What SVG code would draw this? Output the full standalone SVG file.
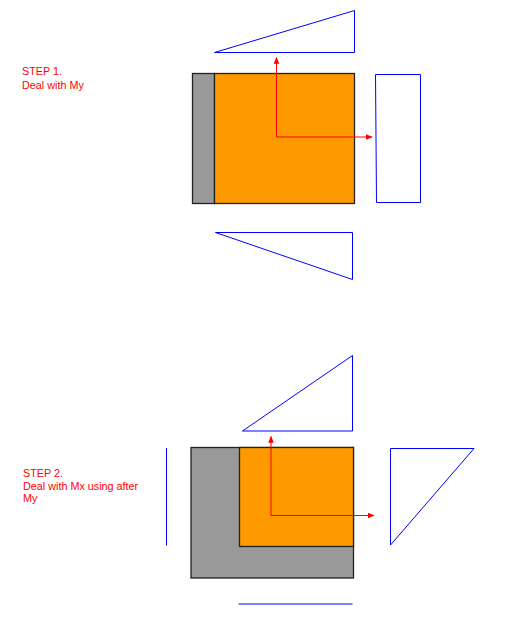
<svg xmlns="http://www.w3.org/2000/svg" width="519" height="638" viewBox="0 0 519 638">
<style>
.blue{fill:none;stroke:#0000ff;stroke-width:1}
.box{stroke:#222;stroke-width:1.3}
.red{fill:none;stroke:#ff0000;stroke-width:1}
.lbl{font-family:"Liberation Sans",Arial,sans-serif;font-size:10.8px;fill:#ff0000}
</style>
<defs>
<marker id="ah" viewBox="0 0 10 10" refX="9" refY="5" markerWidth="7" markerHeight="7" markerUnits="userSpaceOnUse" orient="auto">
<path d="M0,1 L10,5 L0,9 Z" fill="#ff0000"/>
</marker>
</defs>
<rect width="519" height="638" fill="#ffffff"/>
<g id="step1">
<g id="label1"><text class="lbl" x="22" y="75">STEP 1.</text><text class="lbl" x="22" y="89">Deal with My</text></g>
<g id="top-tri1"><polygon class="blue" points="214.5,52.5 354.5,10.5 354.5,52.5"/></g>
<g id="section1">
<rect x="192.5" y="73.5" width="22" height="130" fill="#999999" class="box"/>
<rect x="214.5" y="73.5" width="140" height="130" fill="#ff9900" class="box"/>
</g>
<g id="right-rect1"><polygon class="blue" points="375.5,74.5 420.5,74.5 420.5,202.5 376.5,202.5"/></g>
<g id="bottom-tri1"><polygon class="blue" points="215.5,232.5 352.5,232.5 352.5,279.5"/></g>
</g>
<g id="step2">
<g id="label2"><text class="lbl" x="23" y="476.5">STEP 2.</text><text class="lbl" x="23" y="489.5">Deal with Mx using after</text><text class="lbl" x="23" y="502">My</text></g>
<g id="top-tri2"><polygon class="blue" points="242.5,431 352.5,355.5 352.5,431"/></g>
<g id="section2">
<rect x="191" y="447.5" width="162.5" height="130.5" fill="#999999" class="box"/>
<rect x="239.5" y="447.5" width="114" height="99" fill="#ff9900" class="box"/>
</g>
<g id="left-line2"><line class="blue" x1="166.5" y1="448" x2="166.5" y2="545.5"/></g>
<g id="right-tri2"><polygon class="blue" points="390.5,448.5 474,448.5 390.5,545"/></g>
<g id="bottom-line2"><line class="blue" x1="238.5" y1="604" x2="352.5" y2="604"/></g>
</g>
<g id="connectors">
<polyline class="red" points="276.5,137 276.5,57.5" marker-end="url(#ah)"/>
<polyline class="red" points="276.5,137 372,137" marker-end="url(#ah)"/>
<polyline class="red" points="271,515.5 271,436.5" marker-end="url(#ah)"/>
<polyline class="red" points="271,515.5 374,515.5" marker-end="url(#ah)"/>
</g>
</svg>
